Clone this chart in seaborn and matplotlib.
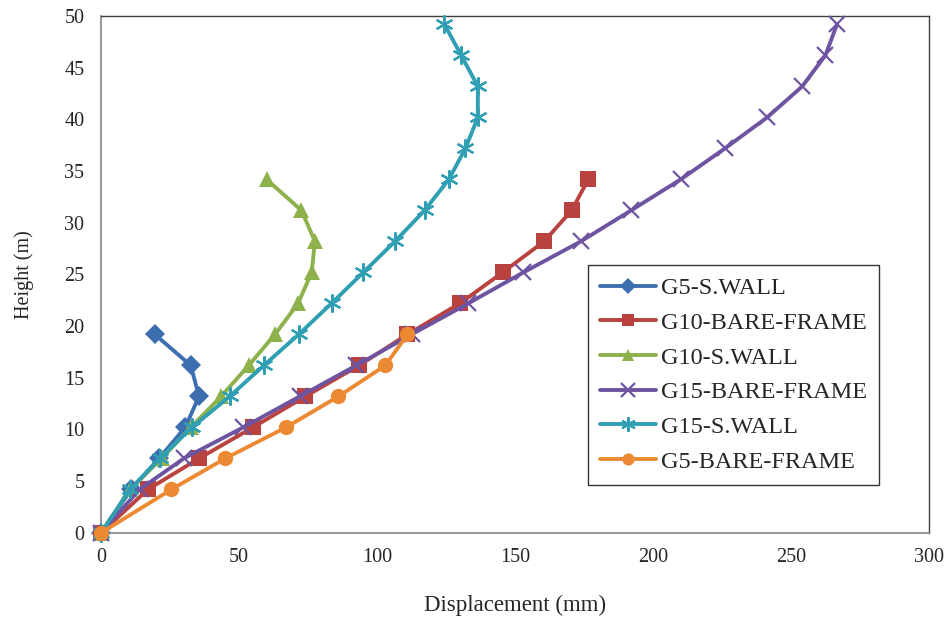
import pandas as pd
import seaborn as sns
import matplotlib.pyplot as plt

# storey heights (m): ground, first floor at 4.2, then 3 m per floor
heights = [0, 4.2, 7.2, 10.2, 13.2, 16.2, 19.2, 22.2, 25.2, 28.2, 31.2,
           34.2, 37.2, 40.2, 43.2, 46.2, 49.2]

# displacement (mm) per series
g5_wall = [0, 11, 21, 30.5, 35.5, 32.5, 19.5]
g10_bare = [0, 17, 35.5, 55, 74, 93.5, 111, 130, 145.5, 160.5, 170.5, 176.5]
g10_wall = [0, 10.5, 22, 32.5, 43.5, 53.5, 63, 71.4, 76.3, 77.5, 72.6, 60]
g15_bare = [0, 14, 30, 51.5, 72, 92.5, 112.5, 133, 153, 173.8, 192, 210,
            226, 241.3, 254, 262.4, 266.6]
g15_wall = [0, 10.5, 21.3, 32.9, 46.6, 59, 71.6, 83.5, 95, 106.5, 117.2,
            126, 132, 136.5, 136.5, 130.5, 124.4]
g5_bare = [0, 25.5, 45, 67, 86, 103, 111]

series = [
    ("G5-S.WALL", g5_wall, "#3D6FB0", "D", 10),
    ("G10-BARE-FRAME", g10_bare, "#BA433F", "s", 11),
    ("G10-S.WALL", g10_wall, "#8DB24C", "^", 11.5),
    ("G15-BARE-FRAME", g15_bare, "#6E54A0", "x", 12),
    ("G15-S.WALL", g15_wall, "#309FB4", (6, 2, 0), 13),
    ("G5-BARE-FRAME", g5_bare, "#EC8A34", "o", 11),
]

rows = []
for name, disp, *_ in series:
    for d, h in zip(disp, heights):
        rows.append({"series": name, "disp": d, "height": h})
df = pd.DataFrame(rows)

sns.set_style("white")
plt.rcParams["font.family"] = ["Liberation Serif", "DejaVu Serif"]

fig = plt.figure(figsize=(9.53, 6.21), dpi=100)
ax = fig.add_axes([0.106, 0.142, 0.869, 0.832])

for name, disp, color, marker, ms in series:
    sub = df[df["series"] == name]
    mew = 1.6 if marker in ("x", (6, 2, 0)) else 0
    sns.lineplot(data=sub, x="disp", y="height", sort=False, estimator=None,
                 ax=ax, color=color, linewidth=2.8, marker=marker,
                 markersize=ms, markeredgewidth=mew, markeredgecolor=color,
                 label=name, clip_on=False, zorder=3)

ax.set_xlim(0, 300)
ax.set_ylim(0, 50)
ax.set_xticks(range(0, 301, 50))
ax.set_yticks(range(0, 51, 5))
ax.tick_params(axis="both", labelsize=14.5, direction="out", length=5,
               color="#868686", width=1)
ax.tick_params(axis="y", pad=7)
ax.tick_params(axis="x", pad=6)
ax.set_xlabel("Displacement (mm)", fontsize=16.5, labelpad=20)
ax.set_ylabel("Height (m)", fontsize=14.5, labelpad=22)

for side in ["left", "bottom"]:
    ax.spines[side].set_color("#868686")
    ax.spines[side].set_linewidth(1.2)
for side in ["top", "right"]:
    ax.spines[side].set_color("#404040")
    ax.spines[side].set_linewidth(1.0)

leg = ax.legend(loc="lower left", bbox_to_anchor=(0.588, 0.093), fontsize=17.5,
                frameon=True, fancybox=False, edgecolor="black",
                handlelength=2.3, labelspacing=0.52, borderpad=0.5,
                handletextpad=0.2, borderaxespad=0, markerscale=0.8)
leg.get_frame().set_linewidth(1.0)

fig.savefig("out.png", dpi=100)
